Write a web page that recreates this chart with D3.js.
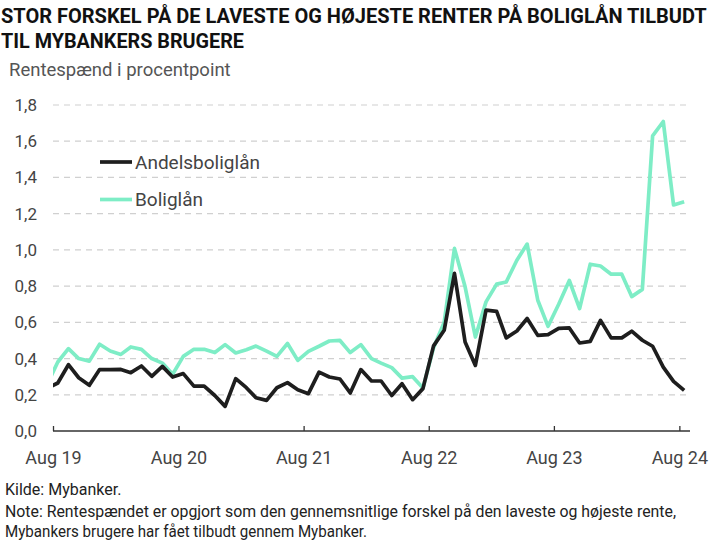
<!DOCTYPE html>
<html><head><meta charset="utf-8">
<script src="https://cdn.jsdelivr.net/npm/d3@7"></script>
<style>
html,body{margin:0;padding:0;background:#fff;}
svg{display:block;font-family:Roboto,"Liberation Sans",Arial,sans-serif;}
</style></head>
<body><svg id="c" width="720" height="542"></svg>
<script>
const months = [
 "2019-07","2019-08","2019-09","2019-10","2019-11","2019-12",
 "2020-01","2020-02","2020-03","2020-04","2020-05","2020-06","2020-07","2020-08","2020-09","2020-10","2020-11","2020-12",
 "2021-01","2021-02","2021-03","2021-04","2021-05","2021-06","2021-07","2021-08","2021-09","2021-10","2021-11","2021-12",
 "2022-01","2022-02","2022-03","2022-04","2022-05","2022-06","2022-07","2022-08","2022-09","2022-10","2022-11","2022-12",
 "2023-01","2023-02","2023-03","2023-04","2023-05","2023-06","2023-07","2023-08","2023-09","2023-10","2023-11","2023-12",
 "2024-01","2024-02","2024-03","2024-04","2024-05","2024-06","2024-07","2024-08"];
const andelsboliglaan = [
 0.236,0.265,0.366,0.294,0.252,0.339,
 0.339,0.340,0.322,0.359,0.302,0.357,0.298,0.317,0.248,0.248,0.196,0.136,
 0.289,0.239,0.184,0.169,0.239,0.267,0.228,0.206,0.325,0.298,0.287,0.210,
 0.339,0.276,0.276,0.196,0.261,0.173,0.234,0.470,0.556,0.870,0.491,0.362,
 0.667,0.661,0.514,0.552,0.621,0.528,0.532,0.567,0.569,0.486,0.495,0.611,
 0.514,0.514,0.551,0.501,0.468,0.353,0.274,0.224];
const boliglaan = [
 0.257,0.381,0.455,0.400,0.386,0.479,
 0.442,0.423,0.464,0.451,0.400,0.375,0.313,0.412,0.451,0.451,0.433,0.477,
 0.431,0.449,0.469,0.441,0.412,0.483,0.390,0.440,0.468,0.497,0.500,0.433,
 0.477,0.400,0.375,0.350,0.292,0.300,0.237,0.460,0.600,1.008,0.796,0.519,
 0.713,0.811,0.823,0.943,1.032,0.722,0.578,0.700,0.831,0.676,0.921,0.911,
 0.866,0.866,0.742,0.782,1.630,1.709,1.248,1.266];
const seriesNames = ["Andelsboliglån","Boliglån"];
const seriesColors = ["#1e1e1e","#7eedc6"];
const xTickDates = ["2019-08-01","2020-08-01","2021-08-01","2022-08-01","2023-08-01","2024-08-01"];
const xTickLabels = ["Aug 19","Aug 20","Aug 21","Aug 22","Aug 23","Aug 24"];
const yTicks = [0,0.2,0.4,0.6,0.8,1.0,1.2,1.4,1.6,1.8];

const svg = d3.select("#c");
const parseMonth = s => { const [y,m] = s.split("-").map(Number); return new Date(Date.UTC(y, m-1, 15)); };
const parseDay = d3.utcParse("%Y-%m-%d");

const x = d3.scaleUtc().domain([parseDay("2019-08-01"), parseDay("2024-09-01")]).range([53, 690]);
const y = d3.scaleLinear().domain([0, 1.8]).range([431, 105]);

function fit(sel, w){ sel.each(function(){ const l=this.getComputedTextLength(); if(l>w){ d3.select(this).attr("textLength",w).attr("lengthAdjust","spacingAndGlyphs"); } }); }

// title
svg.append("text").attr("x",1).attr("y",23).attr("font-size",20).attr("font-weight",700).attr("fill","#111")
  .text("STOR FORSKEL PÅ DE LAVESTE OG HØJESTE RENTER PÅ BOLIGLÅN TILBUDT").call(fit,711);
svg.append("text").attr("x",1).attr("y",48).attr("font-size",20).attr("font-weight",700).attr("fill","#111")
  .text("TIL MYBANKERS BRUGERE").call(fit,243);
svg.append("text").attr("x",9).attr("y",76).attr("font-size",18.5).attr("fill","#555")
  .text("Rentespænd i procentpoint").call(fit,231);

// grid
svg.append("g").selectAll("line").data(yTicks.filter(d=>d>0)).join("line")
  .attr("x1",53).attr("x2",690).attr("y1",d=>y(d)).attr("y2",d=>y(d))
  .attr("stroke","#d0d0d0").attr("stroke-width",1.2).attr("stroke-dasharray","6,5");

// y labels
const fmt = d3.format(".1f");
svg.append("g").selectAll("text").data(yTicks).join("text")
  .attr("x",37).attr("y",d=>y(d)).attr("dy","0.35em").attr("text-anchor","end")
  .attr("font-size",17).attr("fill","#444").text(d=>fmt(d).replace(".",","));

// x axis
const xAxis = d3.axisBottom(x).tickValues(xTickDates.map(parseDay)).tickSize(-5)
  .tickFormat((d,i)=>xTickLabels[i]);
const gx = svg.append("g").attr("transform","translate(0,431)").call(xAxis);
gx.select(".domain").attr("stroke","#333").attr("stroke-width",1.5).attr("d","M53,0H690");
gx.selectAll(".tick line").attr("stroke","#333").attr("stroke-width",1.3);
gx.selectAll(".tick text").attr("font-size",18).attr("fill","#444").attr("y",33).attr("dy",0)
  .attr("font-family","Roboto,'Liberation Sans',Arial,sans-serif");

// clip
svg.append("clipPath").attr("id","clip").append("rect").attr("x",53).attr("y",90).attr("width",637).attr("height",345);

const line = d3.line().x((d,i)=>x(parseMonth(months[i]))).y(d=>y(d)).curve(d3.curveLinear);
const plot = svg.append("g").attr("clip-path","url(#clip)");
[boliglaan, andelsboliglaan].forEach((s,k)=>{
  const idx = k===0?1:0;
  plot.append("path").datum(s).attr("d",line).attr("fill","none")
    .attr("stroke",seriesColors[idx]).attr("stroke-width",3.7).attr("stroke-linejoin","round");
});

// legend
const lg = svg.append("g");
seriesNames.forEach((n,i)=>{
  const yy = 162 + i*37.5;
  lg.append("line").attr("x1",100).attr("x2",132).attr("y1",yy).attr("y2",yy)
    .attr("stroke",seriesColors[i]).attr("stroke-width",3.7);
  lg.append("text").attr("x",135).attr("y",yy).attr("dy","0.36em").attr("font-size",19).attr("fill","#444").text(n)
    .call(fit, i===0?134:68);
});

// footer
const foot = [["Kilde: Mybanker.",495],
 ["Note: Rentespændet er opgjort som den gennemsnitlige forskel på den laveste og højeste rente,",517],
 ["Mybankers brugere har fået tilbudt gennem Mybanker.",537]];
foot.forEach(([t,yy],i)=>{
  svg.append("text").attr("x",5).attr("y",yy).attr("font-size",16).attr("fill","#222").text(t)
    .call(fit, i===1?671:(i===2?362:118));
});
</script></body></html>
